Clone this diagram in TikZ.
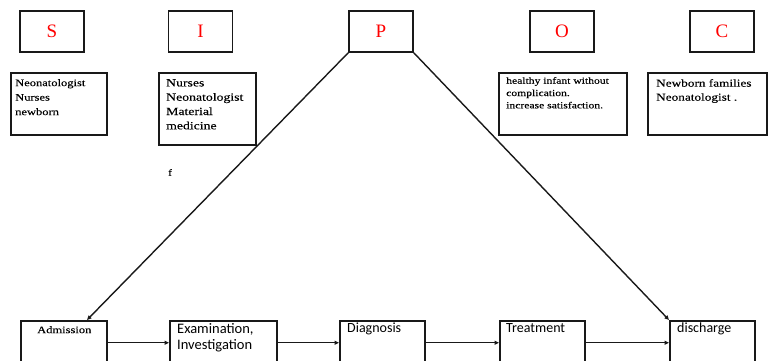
\documentclass[tikz,border=0pt]{standalone}
\usepackage{fontspec}
\setmainfont{Liberation Serif}
\newfontfamily\widefont[FakeStretch=1.25,FakeBold=0.2]{Liberation Serif}
\newfontfamily\calfont{Carlito}
\usetikzlibrary{arrows.meta,calc}

\tikzset{
  frame/.style={draw=black!90, line width=1.5pt},
  letterbox/.style={frame, minimum width=64pt, minimum height=41pt, inner sep=0pt,
    text=red, font=\fontsize{19}{22}\selectfont},
  infobox/.style={frame, anchor=north west, inner sep=0pt},
  stagebox/.style={frame, anchor=north west, minimum height=44pt, inner sep=0pt},
  txt/.style={anchor=north west, inner sep=0pt, align=left},
  link/.style={draw=black!90, line width=1.4pt, -{Triangle[length=4.5pt,width=4pt]}},
}

\begin{document}
\begin{tikzpicture}[x=1pt,y=-1pt]
\useasboundingbox (0,0) rectangle (768,361);
\clip (0,0) rectangle (768,361);

% SIPOC header letters
\node[letterbox] (S) at (52,31.5)  {S};
\node[letterbox] (I) at (200.5,31.5) {I};
\node[letterbox] (P) at (381,31.5) {P};
\node[letterbox] (O) at (562,31.5) {O};
\node[letterbox] (C) at (722,31.5) {C};

% detail boxes under the letters
\node[infobox, minimum width=96pt, minimum height=62pt] (sbox) at (10,72) {};
\node[txt, font=\widefont\fontsize{10}{14.5}\selectfont] (stxt) at (15,79)
  {Neonatologist\\Nurses\\newborn};

\node[infobox, minimum width=97pt, minimum height=72pt] (ibox) at (158,72) {};
\node[txt, font=\widefont\fontsize{11}{14.3}\selectfont] (itxt) at (166,79)
  {Nurses\\Neonatologist\\Material\\medicine};

\node[infobox, minimum width=128pt, minimum height=62pt] (obox) at (498,72) {};
\node[txt, font=\widefont\fontsize{9.3}{12.3}\selectfont] (otxt) at (506,77)
  {healthy infant without\\complication.\\increase satisfaction.};

\node[infobox, minimum width=119pt, minimum height=62pt] (cbox) at (647,72) {};
\node[txt, font=\widefont\fontsize{10.6}{14}\selectfont] (ctxt) at (656,79)
  {Newborn families\\Neonatologist .};

\node[txt, font=\widefont\fontsize{9}{11}\selectfont] (fmark) at (168,169) {f};

% process stages
\node[stagebox, minimum width=86pt]  (adm)   at (20,320)  {};
\node[stagebox, minimum width=107pt] (exam)  at (169,320) {};
\node[stagebox, minimum width=85pt]  (diag)  at (339,320) {};
\node[stagebox, minimum width=85pt]  (treat) at (499,320) {};
\node[stagebox, minimum width=85pt]  (disch) at (669,320) {};

\node[txt, font=\widefont\fontsize{10}{12}\selectfont] (admtxt) at (37,326) {Admission};
\node[txt, font=\calfont\fontsize{14.5}{16}\selectfont] (examtxt) at (177,323) {Examination,\\Investigation};
\node[txt, font=\calfont\fontsize{14}{16}\selectfont] (diagtxt) at (347,323) {Diagnosis};
\node[txt, font=\calfont\fontsize{14}{16}\selectfont] (treattxt) at (506,323) {Treatment};
\node[txt, font=\calfont\fontsize{14}{16}\selectfont] (dischtxt) at (677,323) {discharge};

% flow between stages
\draw[link] (adm.east)   -- (exam.west);
\draw[link] (exam.east)  -- (diag.west);
\draw[link] (diag.east)  -- (treat.west);
\draw[link] (treat.east) -- (disch.west);

% process box spans the flow from admission to discharge
\coordinate (admin) at ($(adm.north west)+(67,0)$);
\draw[link] (P.south west) -- (admin);
\draw[link] (P.south east) -- (disch.north west);
\end{tikzpicture}
\end{document}
